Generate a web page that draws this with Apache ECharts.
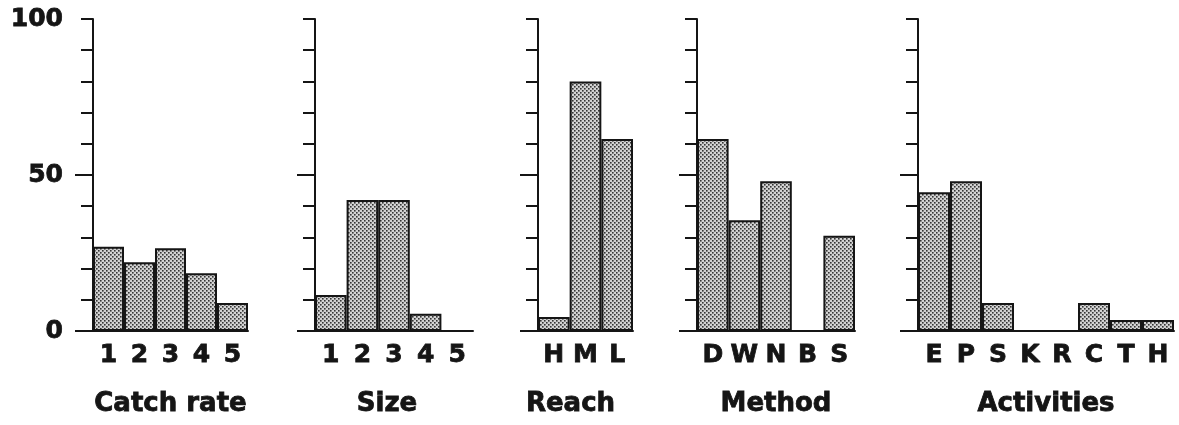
<!DOCTYPE html>
<html><head><meta charset="utf-8">
<script src="https://cdn.jsdelivr.net/npm/echarts@6/dist/echarts.min.js"></script>
<style>html,body{margin:0;padding:0;background:#fff}#c{width:1179px;height:425px}</style>
</head><body><div id="c"></div>
<script>
const catchRateCats = ['1','2','3','4','5'];
const catchRateVals = [27, 22, 26.5, 18.5, 9];
const sizeCats = ['1','2','3','4','5'];
const sizeVals = [11.5, 42, 42, 5.5, 0];
const reachCats = ['H','M','L'];
const reachVals = [4.5, 80, 61.5];
const methodCats = ['D','W','N','B','S'];
const methodVals = [61.5, 35.5, 48, 0, 30.5];
const activityCats = ['E','P','S','K','R','C','T','H'];
const activityVals = [44.5, 48, 9, 0, 0, 9, 3.5, 3.5];
const panelTitles = ['Catch rate','Size','Reach','Method','Activities'];
const yTickLabels = [0, 50, 100];

const panels = [
  {cats: catchRateCats, vals: catchRateVals, left: 93, width: 155, shift: 0},
  {cats: sizeCats, vals: sizeVals, left: 315, width: 158, shift: 14},
  {cats: reachCats, vals: reachVals, left: 538, width: 95, shift: 30},
  {cats: methodCats, vals: methodVals, left: 697, width: 158, shift: 0},
  {cats: activityCats, vals: activityVals, left: 918, width: 256, shift: 0}
];

const pc = document.createElement('canvas');
pc.width = 4; pc.height = 4;
const g = pc.getContext('2d');
g.fillStyle = '#d2d2d2'; g.fillRect(0,0,4,4);
g.fillStyle = '#353535';
g.fillRect(0,0,1.6,1.6); g.fillRect(2,2,1.6,1.6);

const FONT = 'DejaVu Sans';
const INK = '#151515';
const heavy = {fontFamily: FONT, fontWeight: 'bold', color: INK, textBorderColor: INK, textBorderWidth: 0.8};
const grid = [], xAxis = [], yAxis = [], series = [];
panels.forEach((p, i) => {
  grid.push({left: p.left, width: p.width, top: 19, bottom: 94});
  xAxis.push({
    type: 'category', gridIndex: i, data: p.cats,
    axisLine: {show: true, lineStyle: {color: INK, width: 2}},
    axisTick: {show: false},
    axisLabel: Object.assign({interval: 0, hideOverlap: false, fontSize: 25, margin: 12}, heavy),
    name: panelTitles[i], nameLocation: 'middle', nameGap: 60,
    nameTextStyle: Object.assign({fontSize: 26, padding: [0, p.shift, 0, 0]}, heavy)
  });
  yAxis.push({
    type: 'value', gridIndex: i, position: 'left', min: 0, max: 100, interval: 10,
    axisLine: {show: true, lineStyle: {color: INK, width: 2}},
    axisTick: {show: true, length: 12, lineStyle: {color: INK, width: 2}},
    axisLabel: i === 0 ? Object.assign({show: true, customValues: yTickLabels, fontSize: 25, margin: 30}, heavy) : {show: false},
    splitLine: {show: false}
  });
  yAxis.push({
    type: 'value', gridIndex: i, position: 'left', offset: 0, min: 0, max: 100, interval: 50,
    axisLine: {show: false},
    axisTick: {show: true, customValues: [0, 50], length: 18, lineStyle: {color: INK, width: 2}},
    axisLabel: {show: false},
    splitLine: {show: false}
  });
  series.push({
    type: 'bar', xAxisIndex: i, yAxisIndex: 2 * i, data: p.vals,
    barCategoryGap: '0%',
    itemStyle: {color: {image: pc, repeat: 'repeat'}, borderColor: INK, borderWidth: 2},
    silent: true
  });
});

const chart = echarts.init(document.getElementById('c'), null, {renderer: 'canvas'});
chart.setOption({backgroundColor: '#fff', animation: false, grid, xAxis, yAxis, series});
</script></body></html>
